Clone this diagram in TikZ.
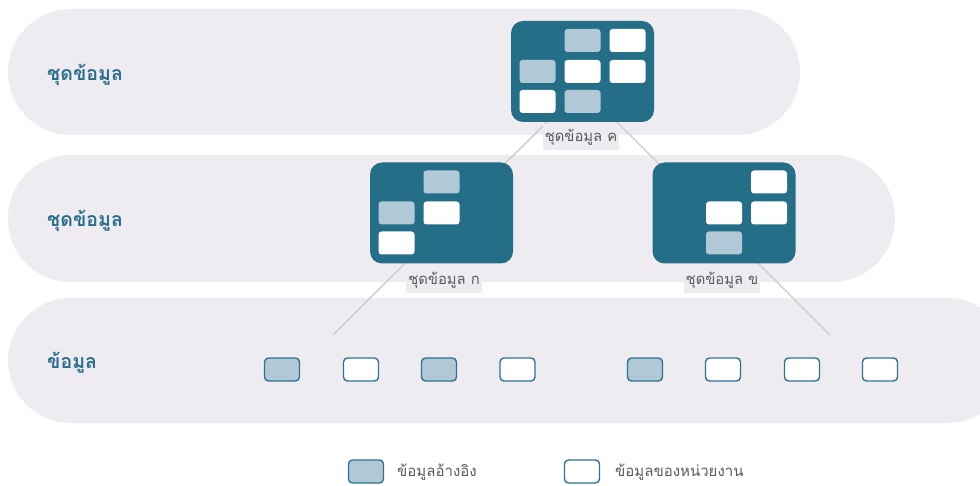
\documentclass[tikz,border=0pt]{standalone}
\usepackage{fontspec}
\newfontfamily\thai[Script=Thai]{Loma}
\definecolor{bandc}{HTML}{EEECF1}
\definecolor{tealc}{HTML}{256E88}
\definecolor{lightc}{HTML}{B1C8D7}
\definecolor{borderc}{HTML}{2F7391}
\definecolor{linec}{HTML}{CBCBCB}
\definecolor{grayt}{HTML}{5A5A5A}
\definecolor{headt}{HTML}{2A6F8C}
\tikzset{
  band/.style={fill=bandc, rounded corners=62.9pt},
  bandlabel/.style={anchor=west, font=\thai\fontsize{19.5}{22}\selectfont\bfseries, text=headt, inner sep=0pt},
  setbox/.style={fill=tealc, rounded corners=12pt, minimum width=143pt, minimum height=101pt, inner sep=0pt},
  intile/.style={rounded corners=3pt, minimum width=36pt, minimum height=23pt, inner sep=0pt},
  inwhite/.style={intile, fill=white},
  inlight/.style={intile, fill=lightc},
  leaf/.style={draw=borderc, line width=1.4pt, rounded corners=4pt, minimum width=35pt, minimum height=23pt, inner sep=0pt},
  leafw/.style={leaf, fill=white},
  leafl/.style={leaf, fill=lightc},
  setlabel/.style={fill=bandc, font=\thai\fontsize{14.8}{16}\selectfont, text=grayt, inner xsep=2pt, inner ysep=5pt},
  legtext/.style={anchor=west, font=\thai\fontsize{15}{17}\selectfont, text=grayt, inner sep=0pt},
  conn/.style={draw=linec, line width=1.4pt}
}
\begin{document}
\begin{tikzpicture}[x=1pt,y=-1pt]
\useasboundingbox (0,0) rectangle (980,486);
% bands
\fill[band] (8,9) rectangle (800,135);
\fill[band] (8,155) rectangle (895,282);
\fill[band] (8,298) rectangle (1010,423);
\fill[white] (980,290) rectangle (1020,430);
\node[bandlabel] (h1) at (47,75) {ชุดข้อมูล};
\node[bandlabel] (h2) at (47,221) {ชุดข้อมูล};
\node[bandlabel] (h3) at (47,363) {ข้อมูล};
% connectors
\coordinate (top) at (582,87);
\coordinate (e1) at (333,335);
\coordinate (e2) at (830,335);
\draw[conn] (e1) -- (top);
\draw[conn] (e2) -- (top);
% labels
\node[setlabel] (lc) at (581,137) {ชุดข้อมูล ค};
\node[setlabel] (la) at (444,280) {ชุดข้อมูล ก};
\node[setlabel] (lb) at (722,280) {ชุดข้อมูล ข};
% set C
\node[setbox] (C) at (582.5,71.5) {};
\node[inlight] (c12) at ([shift={(0,-31)}]C.center) {};
\node[inwhite] (c13) at ([shift={(45,-31)}]C.center) {};
\node[inlight] (c21) at ([shift={(-45,0)}]C.center) {};
\node[inwhite] (c22) at ([shift={(0,0)}]C.center) {};
\node[inwhite] (c23) at ([shift={(45,0)}]C.center) {};
\node[inwhite] (c31) at ([shift={(-45,30)}]C.center) {};
\node[inlight] (c32) at ([shift={(0,30)}]C.center) {};
% set A
\node[setbox] (A) at (441.5,213) {};
\node[inlight] (a12) at ([shift={(0,-31)}]A.center) {};
\node[inlight] (a21) at ([shift={(-45,0)}]A.center) {};
\node[inwhite] (a22) at ([shift={(0,0)}]A.center) {};
\node[inwhite] (a31) at ([shift={(-45,30)}]A.center) {};
% set B
\node[setbox] (B) at (724,213) {};
\node[inwhite] (b13) at ([shift={(45,-31)}]B.center) {};
\node[inwhite] (b22) at ([shift={(0,0)}]B.center) {};
\node[inwhite] (b23) at ([shift={(45,0)}]B.center) {};
\node[inlight] (b32) at ([shift={(0,30)}]B.center) {};
% leaves
\node[leafl] (d1) at (282,369.5) {};
\node[leafw] (d2) at (361,369.5) {};
\node[leafl] (d3) at (439,369.5) {};
\node[leafw] (d4) at (517.5,369.5) {};
\node[leafl] (d5) at (645,369.5) {};
\node[leafw] (d6) at (723,369.5) {};
\node[leafw] (d7) at (802,369.5) {};
\node[leafw] (d8) at (880,369.5) {};
% legend
\node[leafl] (k1) at (366,471.5) {};
\node[legtext] (t1) at (397,472) {ข้อมูลอ้างอิง};
\node[leafw] (k2) at (582,471.5) {};
\node[legtext] (t2) at (615,472) {ข้อมูลของหน่วยงาน};
\end{tikzpicture}
\end{document}
